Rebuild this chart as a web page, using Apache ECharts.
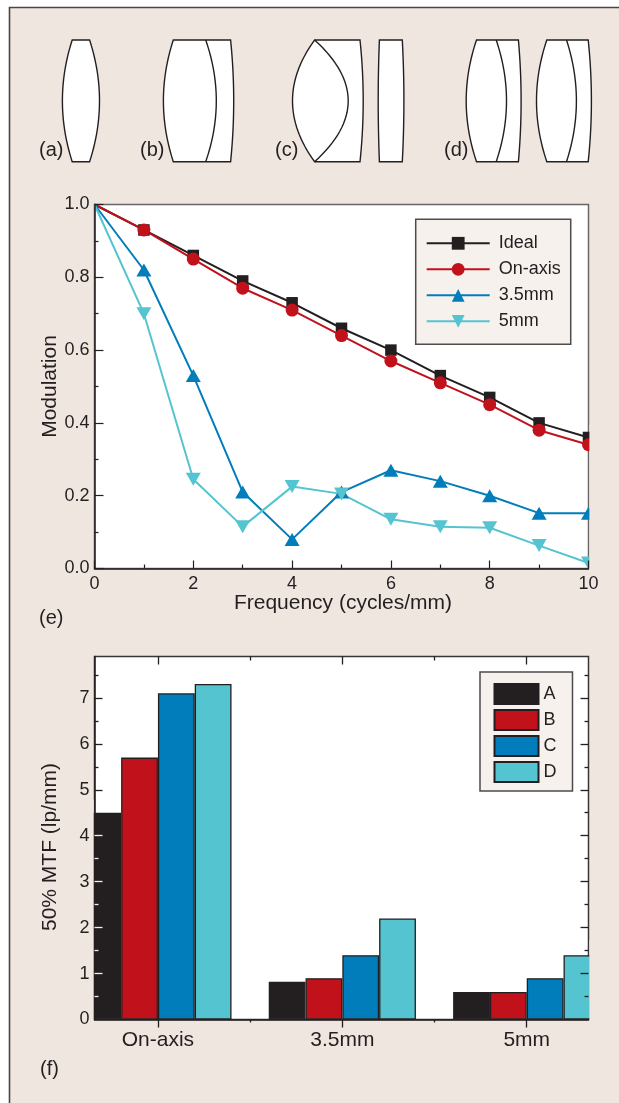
<!DOCTYPE html>
<html><head><meta charset="utf-8">
<style>html,body{margin:0;padding:0;background:#fff}#c{width:619px;height:1103px}</style>
<script src="https://cdn.jsdelivr.net/npm/echarts@6/dist/echarts.min.js"></script>
</head><body><div id="c"></div>
<script>
// Panel (e): modulation transfer curves
const frequency = [0,1,2,3,4,5,6,7,8,9,10];
const ideal   = [1,0.93,0.86,0.79,0.73,0.66,0.60,0.53,0.47,0.40,0.36];
const onAxis  = [1,0.93,0.85,0.77,0.71,0.64,0.57,0.51,0.45,0.38,0.34];
const mm35    = [1,0.82,0.53,0.21,0.08,0.21,0.27,0.24,0.20,0.152,0.152];
const mm5     = [1,0.70,0.245,0.115,0.225,0.205,0.135,0.115,0.112,0.063,0.015];
// Panel (f): 50% MTF bars
const groupLabels = ['On-axis','3.5mm','5mm'];
const lensA = [4.5,0.82,0.6];
const lensB = [5.7,0.9,0.6];
const lensC = [7.1,1.4,0.9];
const lensD = [7.3,2.2,1.4];

const INK='#231f20', BG='#f0e6e0', BOX='#f6f1ed', RED='#c1121c', BLUE='#007dba', CYAN='#54c4d0';
const FONT='"Liberation Sans", Arial, sans-serif';
const txt={color:INK,fontFamily:FONT,fontSize:18};
const big={color:INK,fontFamily:FONT,fontSize:21};

function lineSeries(name,vals,color,symbol,size,rot){
  return {type:'line',name,xAxisIndex:0,yAxisIndex:0,clip:true,z:3,
    data:vals.map((v,i)=>i===0?{value:[frequency[i],v],symbol:'none'}:{value:[frequency[i],v]}),
    symbol,symbolSize:size,symbolRotate:rot||0,showAllSymbol:true,
    lineStyle:{color,width:2},itemStyle:{color}};
}
function barSeries(name,vals,color,border){
  return {type:'bar',name,xAxisIndex:1,yAxisIndex:1,clip:true,barWidth:36.8,barGap:'0%',z:2,
    data:vals.map((v,i)=>[i,v]),
    itemStyle:{color,borderColor:border,borderWidth:1.3}};
}
// Tick-only helper axes for panel (f)
const fx={min:-0.344,max:2.335}, fy={min:0,max:7.9};
const noLine={show:false,onZero:false};
function auxX(position,values,len,inside){
  return {type:'value',gridIndex:1,position,...fx,z:6,splitLine:{show:false},axisLabel:{show:false},axisLine:noLine,
    axisTick:{show:true,customValues:values,length:len,inside,lineStyle:{color:INK,width:1.3}}};
}
function auxY(position,values,len,color){
  return {type:'value',gridIndex:1,position,...fy,z:6,splitLine:{show:false},axisLabel:{show:false},axisLine:noLine,
    axisTick:{show:true,customValues:values,length:len,inside:true,lineStyle:{color,width:1.3}}};
}
const halves=[0.5,1.5,2.5,3.5,4.5,5.5,6.5,7.5], ints=[1,2,3,4,5,6,7];

// Lens outline helpers: sides are gentle arcs sampled between top and bottom edges
const T=40,B=161.7,SAMPLES=32;
function arc(xEnd,xMid,reverse){
  const pts=[];
  for(let i=0;i<=SAMPLES;i++){
    const t=i/SAMPLES, c=2*xMid-xEnd;
    const x=(1-t)*(1-t)*xEnd+2*t*(1-t)*c+t*t*xEnd;
    pts.push([x,T+(B-T)*t]);
  }
  return reverse?pts.reverse():pts;
}
const lensStyle={fill:'#fff',stroke:INK,lineWidth:1.4};
function closed(xl,bl,xr,br){
  return {type:'polygon',shape:{points:[...arc(xr,br,false),...arc(xl,bl,true)]},style:lensStyle,z:5};
}
function doublet(xl,bl,xm,bm,xr,br){
  return [closed(xl,bl,xr,br),
    {type:'polyline',shape:{points:arc(xm,bm,false)},style:{fill:'none',stroke:INK,lineWidth:1.4},z:6}];
}
function label(t,x,y){return {type:'text',x,y,z:7,style:{text:t,fill:INK,font:'20px '+FONT,textVerticalAlign:'middle'}};}

const graphicEls=[
  {type:'rect',shape:{x:9.5,y:7.5,width:640,height:1120},style:{fill:BG,stroke:'#4a4546',lineWidth:1.6},z:-100},
  closed(72.2,62.4,89.6,99.5),
  ...doublet(173.3,163.4,205.7,216.3,230.6,233.7),
  ...doublet(314.6,292.5,314.6,348.2,360,363.2),
  closed(379.4,378.2,402.3,403.9),
  ...doublet(476.5,466.2,496.2,506.5,518.4,521.1),
  ...doublet(546.8,536.5,566.5,576.4,588.2,591.4),
  label('(a)',39,150),label('(b)',140,150),label('(c)',275,150),label('(d)',444,150),
  label('(e)',39,618),label('(f)',40,1069),
  // marks at the limits of the plots are cut by the frames
  {type:'rect',shape:{x:589.4,y:425,width:14,height:147},style:{fill:BG},z:4},
  {type:'rect',shape:{x:80,y:800,width:13.7,height:225},style:{fill:BG},z:4},
  {type:'rect',shape:{x:589.4,y:940,width:16,height:85},style:{fill:BG},z:4}
];

const chart=echarts.init(document.getElementById('c'),null,{renderer:'canvas'});
chart.setOption({
  animation:false,backgroundColor:'#fff',
  graphic:{elements:graphicEls},
  grid:[
    {left:94.5,top:204.5,width:494,height:364,show:true,backgroundColor:'#fff',borderColor:'#6a6566',borderWidth:1.5,z:1},
    {left:94.5,top:656.5,width:494,height:363,show:true,backgroundColor:'#fff',borderColor:'#3a3536',borderWidth:1.5,z:1}
  ],
  legend:[
    {show:true,orient:'vertical',left:415.7,top:219.3,padding:[15,10,14,10],itemWidth:63,itemHeight:16,itemGap:8,
      data:['Ideal','On-axis','3.5mm','5mm'],textStyle:{...txt,padding:[0,0,0,4]},backgroundColor:BOX,borderColor:'#4f4a4b',borderWidth:1.5,selectedMode:false,z:8},
    {show:true,orient:'vertical',left:480,top:672,padding:[11,16,8,13.5],itemWidth:44,itemHeight:20,itemGap:4,icon:'rect',
      data:['A','B','C','D'],textStyle:{...txt,padding:[0,0,0,0]},backgroundColor:BOX,borderColor:'#4f4a4b',borderWidth:1.5,selectedMode:false,z:8}
  ],
  xAxis:[
    {type:'value',gridIndex:0,min:0,max:10,interval:2,position:'bottom',z:6,
      name:'Frequency (cycles/mm)',nameLocation:'middle',nameGap:24.5,nameMoveOverlap:false,nameTextStyle:{...big,padding:[0,0,0,3]},
      splitLine:{show:false},axisLine:{show:true,onZero:false,lineStyle:{color:INK,width:1.5}},
      axisTick:{inside:true,length:8,lineStyle:{color:INK,width:1.2}},
      minorTick:{show:true,splitNumber:2,length:4,lineStyle:{color:INK,width:1.2}},
      axisLabel:{...txt,margin:7,showMinLabel:true,showMaxLabel:true,hideOverlap:false}},
    {type:'value',gridIndex:1,...fx,position:'bottom',z:6,
      splitLine:{show:false},axisLine:{show:true,onZero:false,lineStyle:{color:INK,width:1.5}},
      axisTick:{show:true,customValues:[0,1,2],length:8,inside:false,lineStyle:{color:INK,width:1.3}},
      axisLabel:{...big,margin:10,customValues:[0,1,2],formatter:v=>groupLabels[Math.round(v)]}},
    auxX('bottom',[0.5,1.5],3,false),
    auxX('top',[0,1,2],8,true),
    auxX('top',[0.5,1.5],4,true)
  ],
  yAxis:[
    {type:'value',gridIndex:0,min:0,max:1,interval:0.2,position:'left',z:6,
      name:'Modulation',nameLocation:'middle',nameGap:34,nameMoveOverlap:false,nameTextStyle:big,
      splitLine:{show:false},axisLine:{show:true,onZero:false,lineStyle:{color:INK,width:1.5}},
      axisTick:{inside:true,length:9,lineStyle:{color:INK,width:1.2}},
      minorTick:{show:true,splitNumber:2,length:4,lineStyle:{color:INK,width:1.2}},
      axisLabel:{...txt,margin:5,padding:[5,0,0,0],formatter:v=>v.toFixed(1)}},
    {type:'value',gridIndex:1,...fy,position:'left',z:6,
      name:'50% MTF (lp/mm)',nameLocation:'middle',nameGap:33.5,nameMoveOverlap:false,nameTextStyle:{...big,padding:[0,18,0,0]},
      splitLine:{show:false},axisLine:{show:true,onZero:false,lineStyle:{color:INK,width:1.5}},
      axisTick:{show:true,customValues:[5,6,7],length:8,inside:true,lineStyle:{color:INK,width:1.3}},
      axisLabel:{...txt,margin:5,padding:[5,0,0,0],customValues:[0,1,2,3,4,5,6,7]}},
    auxY('left',[5.5,6.5,7.5],4,INK),
    auxY('left',[1,2,3,4],8,'#f4efec'),
    auxY('left',[0.5,1.5,2.5,3.5],4,'#f4efec'),
    auxY('right',ints,8,INK),
    auxY('right',halves,4,INK)
  ],
  series:[
    lineSeries('Ideal',ideal,INK,'rect',11.5),
    lineSeries('On-axis',onAxis,RED,'circle',13),
    lineSeries('3.5mm',mm35,BLUE,'triangle',[15,13]),
    lineSeries('5mm',mm5,CYAN,'triangle',[15,13],180),
    barSeries('A',lensA,INK,INK),
    barSeries('B',lensB,RED,INK),
    barSeries('C',lensC,BLUE,INK),
    barSeries('D',lensD,CYAN,INK)
  ]
});
</script></body></html>
